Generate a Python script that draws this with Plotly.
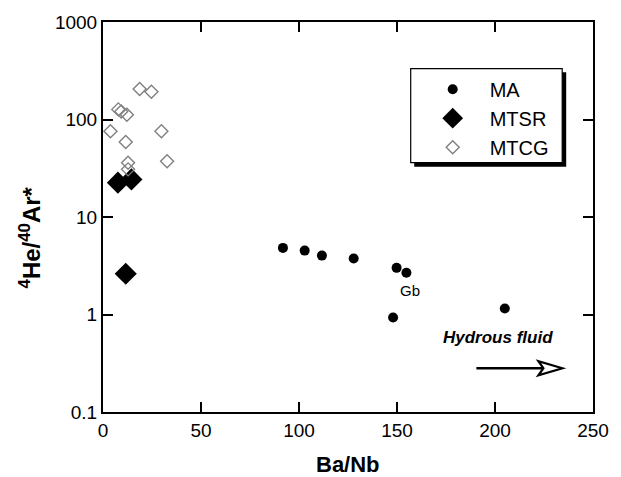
import math
import plotly.graph_objects as go

# --- data ---
ma_x = [91.8, 102.9, 111.7, 127.9, 149.8, 154.8, 148.0, 205.0]
ma_y = [4.82, 4.52, 4.02, 3.75, 3.01, 2.68, 0.93, 1.15]

mtsr_x = [7.6, 14.5, 11.6]
mtsr_y = [22.5, 24.3, 2.62]

mtcg_x = [18.7, 24.7, 7.8, 9.3, 12.2, 3.8, 29.8, 11.6, 32.7, 12.8, 12.8]
mtcg_y = [206, 193, 127, 121, 112, 75.6, 75.6, 58.9, 37.4, 36.0, 30.8]

x_ticks = [0, 50, 100, 150, 200, 250]
y_ticks = [0.1, 1, 10, 100, 1000]
y_ticktext = ["0.1", "1", "10", "100", "1000"]

FONT = "Liberation Sans, Arial, Helvetica, sans-serif"

fig = go.Figure()
fig.add_trace(go.Scatter(x=ma_x, y=ma_y, mode="markers", name="MA",
                         marker=dict(symbol="circle", size=10, color="black")))
fig.add_trace(go.Scatter(x=mtsr_x, y=mtsr_y, mode="markers", name="MTSR",
                         marker=dict(symbol="diamond", size=17, color="black")))
fig.add_trace(go.Scatter(x=mtcg_x, y=mtcg_y, mode="markers", name="MTCG",
                         marker=dict(symbol="diamond-open", size=10, color="#808080",
                                     line=dict(width=1.4, color="#808080"))))

axis_common = dict(showline=True, linewidth=2, linecolor="black", mirror="ticks",
                   ticks="inside", ticklen=10, tickwidth=1.5, tickcolor="black",
                   showgrid=False, zeroline=False,
                   tickfont=dict(family=FONT, size=19, color="black"))

fig.update_xaxes(range=[0, 250], tickvals=x_ticks, **axis_common)
fig.update_yaxes(type="log", range=[-1, 3], tickvals=y_ticks, ticktext=y_ticktext,
                 **axis_common)

def px_to_paper_x(px):
    return (px - 103.3) / 490.0

def px_to_paper_y(py):
    return (412.3 - py) / 392.3

shapes = [
    # legend box drop shadow
    dict(type="rect", xref="paper", yref="paper",
         x0=px_to_paper_x(414.5), x1=px_to_paper_x(566.5),
         y0=px_to_paper_y(165.5), y1=px_to_paper_y(70.5),
         fillcolor="black", line=dict(width=0), layer="above"),
    # legend box
    dict(type="rect", xref="paper", yref="paper",
         x0=px_to_paper_x(411), x1=px_to_paper_x(562.5),
         y0=px_to_paper_y(161.5), y1=px_to_paper_y(67),
         fillcolor="white", line=dict(width=1.2, color="black"), layer="above"),
    # arrow shaft
    dict(type="line", xref="x", yref="y", x0=190.5, x1=224.0, y0=0.281, y1=0.281,
         line=dict(color="black", width=2.5)),
    # open arrow head (pixel-sized path anchored at the tip)
    dict(type="path", xref="x", yref="y", xsizemode="pixel", ysizemode="pixel",
         xanchor=234.4, yanchor=0.281,
         path="M 0,0 L -24,7 L -19,0 L -24,-7 Z",
         fillcolor="white", line=dict(color="black", width=2.2)),
]

annotations = [
    dict(text="<b>Ba/Nb</b>", xref="paper", yref="paper", x=0.5, y=px_to_paper_y(465),
         showarrow=False, font=dict(family=FONT, size=22, color="black"),
         xanchor="center", yanchor="middle"),
    dict(text="<b><sup>4</sup>He/<sup>40</sup>Ar*</b>", xref="paper", yref="paper",
         x=px_to_paper_x(30), y=px_to_paper_y(237), textangle=-90,
         showarrow=False, font=dict(family=FONT, size=24, color="black"),
         xanchor="center", yanchor="middle"),
    dict(text="<b><i>Hydrous fluid</i></b>", xref="x", yref="y", x=201.4,
         y=math.log10(0.58),
         showarrow=False, font=dict(family=FONT, size=17, color="black"),
         xanchor="center", yanchor="middle"),
    dict(text="Gb", xref="x", yref="y", x=156.5, y=math.log10(1.77),
         showarrow=False, font=dict(family=FONT, size=15, color="black"),
         xanchor="center", yanchor="middle"),
]

fig.update_layout(
    width=621, height=477,
    margin=dict(l=103, r=28, t=20, b=65),
    paper_bgcolor="white", plot_bgcolor="white",
    font=dict(family=FONT, color="black"),
    showlegend=True,
    legend=dict(x=px_to_paper_x(416), y=px_to_paper_y(68), xanchor="left", yanchor="top",
                bgcolor="rgba(0,0,0,0)", borderwidth=0,
                font=dict(family=FONT, size=20, color="black"),
                itemwidth=64),
    shapes=shapes,
    annotations=annotations,
)

fig.write_html("out.html")
